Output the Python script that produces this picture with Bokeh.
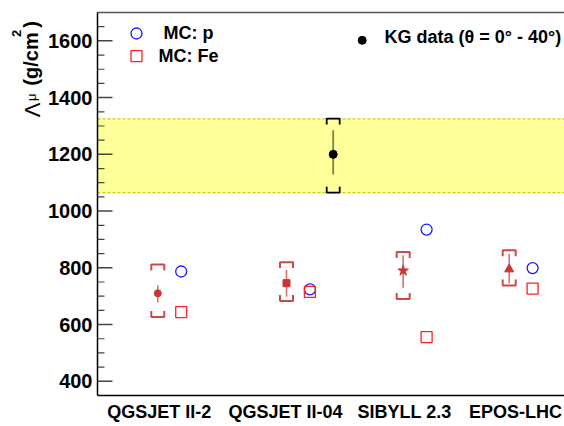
import math
from bokeh.plotting import figure
from bokeh.layouts import row
from bokeh.models import Range1d, LinearAxis, FixedTicker
from bokeh.core.properties import value
from bokeh.embed import file_html
from bokeh.resources import INLINE

# ---------------- data ----------------
models = ["QGSJET II-2", "QGSJET II-04", "SIBYLL 2.3", "EPOS-LHC"]
model_x = [60.3, 189.0, 305.7, 411.7]          # horizontal position of each model
label_x = [61.7, 188.0, 307.0, 418.0]          # position of the category labels
kg_model = [710, 746, 790, 795]                # KG data interpreted with each model
stat_lo = [679, 699, 730, 746]
stat_hi = [739, 793, 844, 850]
sys_lo = [627, 683, 690, 738]
sys_hi = [812, 820, 856, 862]
mc_p = [787, 724, 935, 799]
mc_fe = [644, 715, 556, 727]
mc_offset = 23.4
model_markers = ["circle", "square", "star", "triangle"]
model_sizes = [7, 7, 11, 9]

kg_x = 235.7
kg_val = 1200
kg_stat = (1129, 1285)
kg_sys = (1065, 1326)
band = (1065, 1325)

yticks = [400, 600, 800, 1000, 1200, 1400, 1600]
yminor = [v for v in range(350, 1701, 50) if v not in yticks]

FONT = "Liberation Sans"
RED = "#cc3333"
TOTAL_H = 423
SIDE_W = 44

# ---------------- main figure ----------------
p = figure(frame_width=467, frame_height=383, output_backend="svg",
           toolbar_location=None, x_range=Range1d(0, 467), y_range=Range1d(350, 1700),
           min_border_left=97 - SIDE_W, min_border_right=0, min_border_top=12,
           min_border_bottom=TOTAL_H - 12 - 383,
           x_axis_location=None, y_axis_location=None)
p.background_fill_color = "white"
p.border_fill_color = "white"
p.outline_line_color = None
p.xgrid.visible = False
p.ygrid.visible = False

# left axis
yax = LinearAxis(ticker=FixedTicker(ticks=yticks, minor_ticks=[]))
yax.axis_line_color = "black"
yax.axis_line_width = 1.5
yax.major_tick_line_color = None
yax.minor_tick_line_color = None
yax.major_tick_in = 0
yax.major_tick_out = 0
yax.major_label_text_font = FONT
yax.major_label_text_font_style = "bold"
yax.major_label_text_font_size = "20px"
yax.major_label_text_color = "black"
yax.major_label_standoff = 5
p.add_layout(yax, "left")

# bottom axis with category labels
xax = LinearAxis(ticker=FixedTicker(ticks=label_x, minor_ticks=[]))
xax.major_label_overrides = {lx: m for lx, m in zip(label_x, models)}
xax.axis_line_color = "black"
xax.axis_line_width = 1.5
xax.major_tick_line_color = None
xax.major_tick_in = 0
xax.major_tick_out = 0
xax.minor_tick_line_color = None
xax.major_label_text_font = FONT
xax.major_label_text_font_style = "bold"
xax.major_label_text_font_size = "18px"
xax.major_label_text_color = "black"
xax.major_label_standoff = 6
p.add_layout(xax, "below")

# top axis: just the frame line
tax = LinearAxis(ticker=FixedTicker(ticks=[], minor_ticks=[]))
tax.axis_line_color = "#555555"
tax.axis_line_width = 1.5
tax.major_tick_line_color = None
tax.minor_tick_line_color = None
tax.major_tick_in = 0
tax.major_tick_out = 0
tax.major_label_text_font_size = "0px"
tax.major_label_standoff = 0
p.add_layout(tax, "above")

# ---------------- yellow band ----------------
p.quad(left=[0], right=[467], bottom=[band[0]], top=[band[1]],
       fill_color="#ffff99", line_color=None)
for yb in band:
    p.line(x=[0, 467], y=[yb, yb], line_color="#cccc00", line_width=1.2, line_dash="3 2")

# inward ticks on the left axis
p.segment(x0=[0] * len(yticks), y0=yticks, x1=[15] * len(yticks), y1=yticks,
          line_color="#444444", line_width=1.5)
p.segment(x0=[0] * len(yminor), y0=yminor, x1=[7] * len(yminor), y1=yminor,
          line_color="#444444", line_width=1.2)

# ---------------- brackets helper ----------------
BW = 6.5     # half width in x units
LEG = 21     # leg length in y units

def bracket_paths(xs, lo, hi):
    px, py = [], []
    for x, l, h in zip(xs, lo, hi):
        px.append([x - BW, x - BW, x + BW, x + BW])
        py.append([h - LEG, h, h, h - LEG])
        px.append([x - BW, x - BW, x + BW, x + BW])
        py.append([l + LEG, l, l, l + LEG])
    return px, py

# model points
bx, by = bracket_paths(model_x, sys_lo, sys_hi)
p.multi_line(xs=bx, ys=by, line_color=RED, line_width=2, line_alpha=0.9)
p.segment(x0=model_x, y0=stat_lo, x1=model_x, y1=stat_hi, line_color=RED,
          line_width=1.6, line_alpha=0.7)
for i in range(len(models)):
    p.scatter(x=[model_x[i]], y=[kg_model[i]], marker=model_markers[i],
              size=model_sizes[i], fill_color=RED, line_color=RED)

# MC predictions
mcx = [x + mc_offset for x in model_x]
p.scatter(x=mcx, y=mc_p, marker="circle", size=11, fill_color=None,
          line_color="#1a1aff", line_width=1.3)
p.scatter(x=mcx, y=mc_fe, marker="square", size=11, fill_color=None,
          line_color="#ff2020", line_width=1.3)

# KG data point
kbx, kby = bracket_paths([kg_x], [kg_sys[0]], [kg_sys[1]])
p.multi_line(xs=kbx, ys=kby, line_color="black", line_width=1.8)
p.segment(x0=[kg_x], y0=[kg_stat[0]], x1=[kg_x], y1=[kg_stat[1]],
          line_color="black", line_alpha=0.5, line_width=1.8)
p.scatter(x=[kg_x], y=[kg_val], marker="circle", size=8, fill_color="black",
          line_color="black")

# ---------------- legend ----------------
p.scatter(x=[39], y=[1626], marker="circle", size=11, fill_color=None,
          line_color="#1a1aff", line_width=1.3)
p.scatter(x=[39], y=[1546], marker="square", size=11, fill_color=None,
          line_color="#ff2020", line_width=1.3)
p.scatter(x=[264.7], y=[1602], marker="circle", size=8, fill_color="black",
          line_color="black")
p.text(x=[91, 91], y=[1626, 1546], text=["MC: p", "MC: Fe"],
       text_font=value(FONT), text_font_style="bold", text_font_size="18px",
       text_align="center", text_baseline="middle", text_color="black")
p.text(x=[287], y=[1613], text=["KG data (θ = 0° - 40°)"],
       text_font=value(FONT), text_font_style="bold", text_font_size="18px",
       text_align="left", text_baseline="middle", text_color="black")

# ---------------- y-axis title in a narrow side panel ----------------
s = figure(width=SIDE_W, height=TOTAL_H, output_backend="svg", toolbar_location=None,
           x_range=Range1d(0, SIDE_W), y_range=Range1d(TOTAL_H, 0),
           min_border=0, x_axis_location=None, y_axis_location=None)
s.outline_line_color = None
s.xgrid.visible = False
s.ygrid.visible = False
s.background_fill_color = "white"
s.border_fill_color = "white"

title_parts = ["Λ", "μ", "(g/cm", "2", ")"]
title_base = [32, 31, 30, 16, 30]
title_start = [116, 98, 81, 27, 17]
title_sizes = ["22px", "13px", "20px", "13px", "20px"]
title_styles = ["normal", "normal", "bold", "bold", "bold"]
for t, bx_, st, sz, fs in zip(title_parts, title_base, title_start, title_sizes, title_styles):
    s.text(x=[bx_], y=[st], text=[t], angle=math.pi / 2,
           text_font=value(FONT), text_font_size=sz, text_font_style=fs,
           text_align="left", text_baseline="alphabetic", text_color="black")

layout = row(s, p, spacing=0)
open("out.html", "w").write(file_html(layout, INLINE))
